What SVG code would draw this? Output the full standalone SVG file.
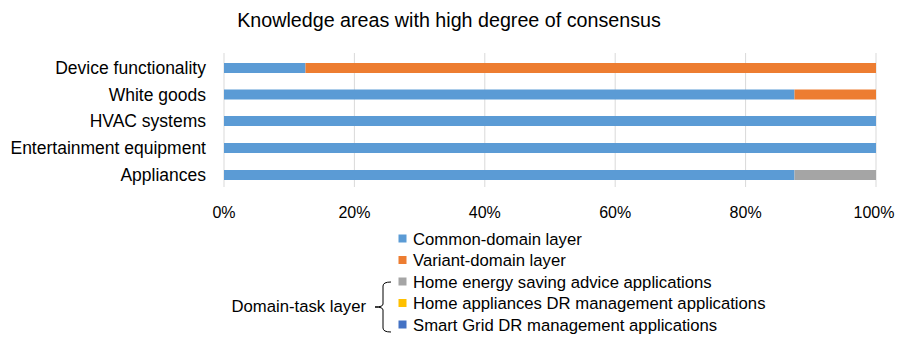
<svg xmlns="http://www.w3.org/2000/svg" width="898" height="341" viewBox="0 0 898 341">
<style>
text{font-family:"Liberation Sans",Arial,sans-serif;fill:#000}
.lab{font-size:17.5px;text-anchor:end}
.tick{font-size:16px;text-anchor:middle}
.leg{font-size:16.7px}
.grid{stroke:#D9D9D9;stroke-width:1}
.c1{fill:#5B9BD5}.c2{fill:#ED7D31}.c3{fill:#A5A5A5}.c4{fill:#FFC000}.c5{fill:#4472C4}
</style>
<rect width="898" height="341" fill="#fff"/>
<text x="449" y="27" font-size="19.7" text-anchor="middle">Knowledge areas with high degree of consensus</text>
<g id="grid">
<line class="grid" x1="224" y1="53" x2="224" y2="187"/>
<line class="grid" x1="354.4" y1="53" x2="354.4" y2="187"/>
<line class="grid" x1="484.8" y1="53" x2="484.8" y2="187"/>
<line class="grid" x1="615.2" y1="53" x2="615.2" y2="187"/>
<line class="grid" x1="745.6" y1="53" x2="745.6" y2="187"/>
<line class="grid" x1="876" y1="53" x2="876" y2="187"/>
</g>
<g id="bar-device">
<rect class="c1" x="224" y="63" width="81.5" height="10"/>
<rect class="c2" x="305.5" y="63" width="570.5" height="10"/>
<text class="lab" x="206" y="74">Device functionality</text>
</g>
<g id="bar-white">
<rect class="c1" x="224" y="89.5" width="570.5" height="10"/>
<rect class="c2" x="794.5" y="89.5" width="81.5" height="10"/>
<text class="lab" x="206" y="100.5">White goods</text>
</g>
<g id="bar-hvac">
<rect class="c1" x="224" y="116" width="652" height="10"/>
<text class="lab" x="206" y="127">HVAC systems</text>
</g>
<g id="bar-ent">
<rect class="c1" x="224" y="143" width="652" height="10"/>
<text class="lab" x="206" y="154">Entertainment equipment</text>
</g>
<g id="bar-app">
<rect class="c1" x="224" y="170" width="570.5" height="10"/>
<rect class="c3" x="794.5" y="170" width="81.5" height="10"/>
<text class="lab" x="206" y="181">Appliances</text>
</g>
<g id="axis">
<text class="tick" x="224" y="218">0%</text>
<text class="tick" x="354.4" y="218">20%</text>
<text class="tick" x="484.8" y="218">40%</text>
<text class="tick" x="615.2" y="218">60%</text>
<text class="tick" x="745.6" y="218">80%</text>
<text class="tick" x="874" y="218">100%</text>
</g>
<g id="legend">
<rect class="c1" x="398.5" y="234.5" width="8" height="8"/>
<text class="leg" x="413" y="244.5">Common-domain layer</text>
<rect class="c2" x="398.5" y="256" width="8" height="8"/>
<text class="leg" x="413" y="266">Variant-domain layer</text>
<rect class="c3" x="398.5" y="277.5" width="8" height="8"/>
<text class="leg" x="413" y="287.5">Home energy saving advice applications</text>
<rect class="c4" x="398.5" y="299" width="8" height="8"/>
<text class="leg" x="413" y="309">Home appliances DR management applications</text>
<rect class="c5" x="398.5" y="320.5" width="8" height="8"/>
<text class="leg" x="413" y="330.5">Smart Grid DR management applications</text>
</g>
<g id="connectors">
<path d="M391,282 Q383,282 383,286 L383,304 Q383,307 375,307 Q383,307 383,310 L383,328 Q383,332 391,332" fill="none" stroke="#000" stroke-width="1"/>
</g>
<g id="domain-task">
<text class="leg" x="366" y="312" text-anchor="end">Domain-task layer</text>
</g>
</svg>
